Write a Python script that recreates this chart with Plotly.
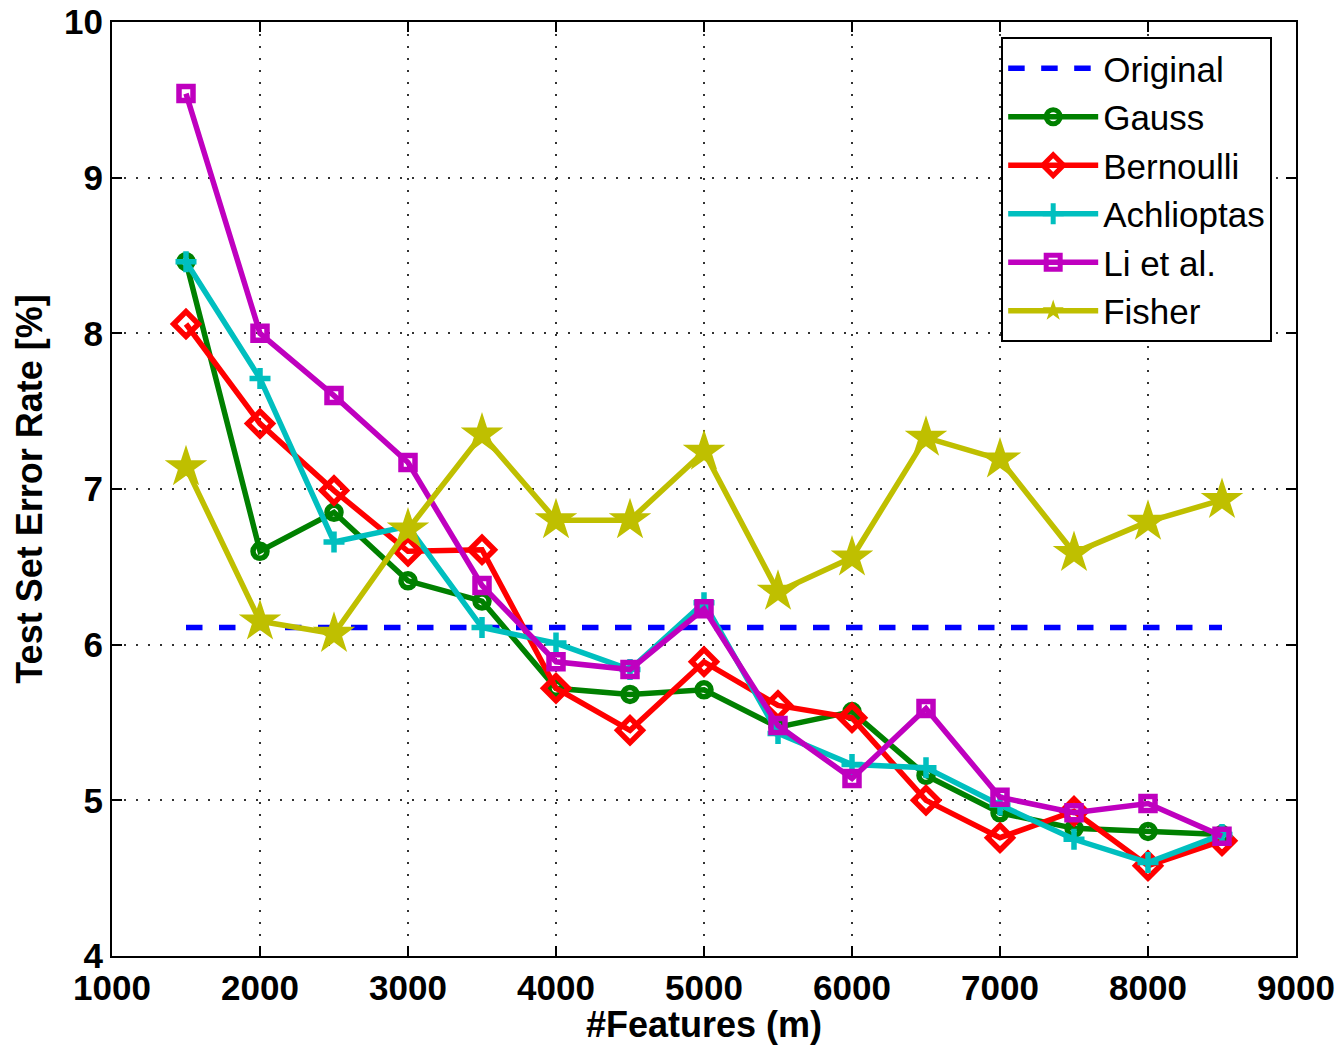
import plotly.graph_objects as go

features = [1500, 2000, 2500, 3000, 3500, 4000, 4500, 5000, 5500, 6000, 6500, 7000, 7500, 8000, 8500]
original = [6.11] * 15
gauss = [8.46, 6.60, 6.85, 6.41, 6.28, 5.72, 5.68, 5.71, 5.47, 5.57, 5.16, 4.92, 4.82, 4.80, 4.78]
bernoulli = [8.06, 7.42, 6.99, 6.60, 6.61, 5.72, 5.45, 5.89, 5.61, 5.53, 5.00, 4.76, 4.93, 4.58, 4.74]
achlioptas = [8.46, 7.71, 6.66, 6.76, 6.11, 6.01, 5.84, 6.27, 5.43, 5.23, 5.21, 4.97, 4.75, 4.60, 4.78]
li_et_al = [9.54, 8.00, 7.60, 7.17, 6.38, 5.89, 5.84, 6.23, 5.48, 5.14, 5.59, 5.02, 4.92, 4.98, 4.77]
fisher = [7.14, 6.15, 6.07, 6.74, 7.35, 6.80, 6.80, 7.24, 6.34, 6.56, 7.33, 7.19, 6.59, 6.79, 6.93]

x_ticks = [1000, 2000, 3000, 4000, 5000, 6000, 7000, 8000, 9000]
y_ticks = [4, 5, 6, 7, 8, 9, 10]

FONT = "Liberation Sans, Arial, sans-serif"
LW = 5.5
MLW = 5.5

fig = go.Figure()
fig.add_trace(go.Scatter(x=features, y=original, name="Original", mode="lines",
                         line=dict(color="#0000FF", width=LW, dash="dash")))
fig.add_trace(go.Scatter(x=features, y=gauss, name="Gauss", mode="lines+markers",
                         line=dict(color="#008000", width=LW),
                         marker=dict(symbol="circle-open", size=14, line=dict(width=MLW, color="#008000"))))
fig.add_trace(go.Scatter(x=features, y=bernoulli, name="Bernoulli", mode="lines+markers",
                         line=dict(color="#FF0000", width=LW),
                         marker=dict(symbol="diamond-open", size=19, line=dict(width=MLW, color="#FF0000"))))
fig.add_trace(go.Scatter(x=features, y=achlioptas, name="Achlioptas", mode="lines+markers",
                         line=dict(color="#00BFBF", width=LW),
                         marker=dict(symbol="cross-thin-open", size=15, line=dict(width=MLW, color="#00BFBF"))))
fig.add_trace(go.Scatter(x=features, y=li_et_al, name="Li et al.", mode="lines+markers",
                         line=dict(color="#BF00BF", width=LW),
                         marker=dict(symbol="square-open", size=14, line=dict(width=MLW, color="#BF00BF"))))
fig.add_trace(go.Scatter(x=features, y=fisher, name="Fisher", mode="lines+markers",
                         line=dict(color="#BFBF00", width=LW),
                         marker=dict(symbol="star", size=32, color="#BFBF00", line=dict(width=0))))

tick_font = dict(family=FONT, size=35, color="black", weight="bold")
title_font = dict(family=FONT, size=36, color="black", weight="bold")

axis_common = dict(showline=True, linecolor="black", linewidth=2, mirror="ticks",
                   ticks="inside", ticklen=10, tickwidth=1.5, tickcolor="black",
                   showgrid=True, gridcolor="#333333", griddash="2px,10px", gridwidth=1.5,
                   zeroline=False, tickfont=tick_font, automargin=False)

fig.update_xaxes(range=[1000, 9000], tickvals=x_ticks, ticktext=[str(v) for v in x_ticks],
                 title=dict(text="#Features (m)", font=title_font, standoff=4),
                 **axis_common)
fig.update_yaxes(range=[4, 10], tickvals=y_ticks, ticktext=[str(v) for v in y_ticks],
                 title=dict(text="Test Set Error Rate [%]", font=title_font, standoff=10),
                 **axis_common)

fig.update_layout(
    width=1342, height=1045,
    margin=dict(l=112, r=46, t=22, b=89),
    paper_bgcolor="white", plot_bgcolor="white",
    font=dict(family=FONT, size=33, color="black"),
    showlegend=True,
    legend=dict(x=0.751, y=0.984, xanchor="left", yanchor="top",
                bgcolor="white", bordercolor="black", borderwidth=2,
                font=dict(family=FONT, size=35, color="black"),
                tracegroupgap=0, itemwidth=90),
)

fig.write_html("out.html")
